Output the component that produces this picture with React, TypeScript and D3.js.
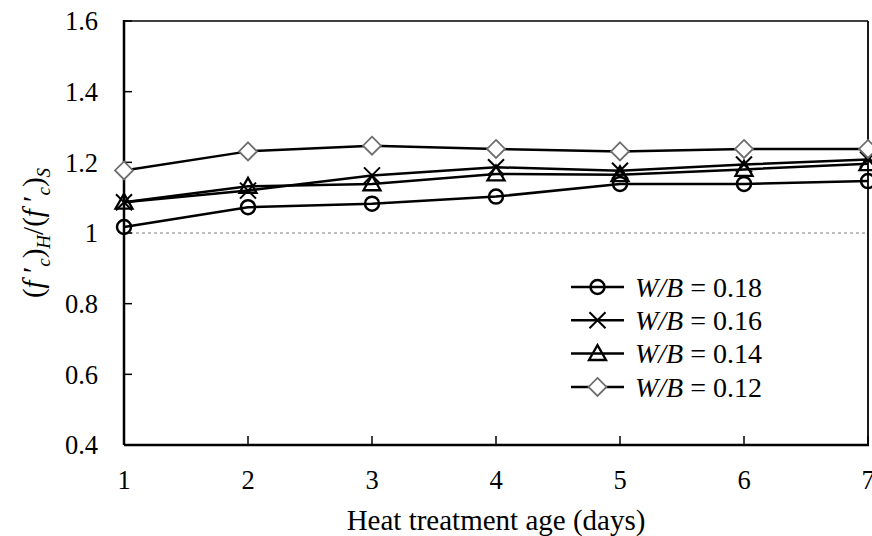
import React from "react";
import * as d3 from "d3";

const days = [1, 2, 3, 4, 5, 6, 7];
const wb018 = [1.017, 1.073, 1.083, 1.103, 1.139, 1.139, 1.147];
const wb016 = [1.087, 1.12, 1.163, 1.186, 1.176, 1.194, 1.208];
const wb014 = [1.087, 1.132, 1.139, 1.167, 1.165, 1.18, 1.196];
const wb012 = [1.177, 1.231, 1.247, 1.238, 1.231, 1.238, 1.238];
const seriesLabels = ["0.18", "0.16", "0.14", "0.12"];
const yTicks = [0.4, 0.6, 0.8, 1.0, 1.2, 1.4, 1.6];
const yTickLabels = ["0.4", "0.6", "0.8", "1", "1.2", "1.4", "1.6"];

const W = 872, H = 536;
const L = 124, R = 868, T = 21, B = 445;
const FONT = "Liberation Serif, Times New Roman, DejaVu Serif, serif";
const txt = { fontFamily: FONT };

function Marker({ kind, x, y }: { kind: string; x: number; y: number }) {
  if (kind === "circle")
    return <circle cx={x} cy={y} r={7} fill="none" stroke="#000" strokeWidth={2.5} />;
  if (kind === "x") {
    const s = 8;
    return (
      <path d={`M${x - s},${y - s}L${x + s},${y + s}M${x - s},${y + s}L${x + s},${y - s}`} stroke="#000" strokeWidth={2} fill="none" />
    );
  }
  if (kind === "tri") {
    const s = 8.5;
    return (
      <path d={`M${x},${y - s}L${x + s},${y + s * 0.75}L${x - s},${y + s * 0.75}Z`} stroke="#000" strokeWidth={2.3} fill="none" />
    );
  }
  const s = 9;
  return (
    <path d={`M${x},${y - s}L${x + s},${y}L${x},${y + s}L${x - s},${y}Z`} stroke="#6e6e6e" strokeWidth={1.8} fill="#fff" />
  );
}

export default function App() {
  const x = d3.scaleLinear().domain([1, 7]).range([L, R]);
  const y = d3.scaleLinear().domain([0.4, 1.6]).range([B, T]);
  const line = d3.line<number>().x((_, i) => x(days[i])).y((d) => y(d));
  const series = [
    { vals: wb018, kind: "circle" },
    { vals: wb016, kind: "x" },
    { vals: wb014, kind: "tri" },
    { vals: wb012, kind: "diamond" },
  ];
  const legX = 571, legY0 = 287, legDy = 33.3;
  return (
    <div style={{ position: "absolute", left: 0, top: 0 }}>
      <svg width={W} height={H} style={{ display: "block", background: "#fff" }}>
        <rect x={0} y={0} width={W} height={H} fill="#fff" />
        <line x1={L} x2={R} y1={y(1)} y2={y(1)} stroke="#808080" strokeWidth={1.2} strokeDasharray="3,3" />
        <line x1={L} x2={R} y1={T} y2={T} stroke="#000" strokeWidth={1.5} />
        <line x1={R} x2={R} y1={T} y2={B} stroke="#000" strokeWidth={1.8} />
        <line x1={L} x2={L} y1={T - 1} y2={B} stroke="#000" strokeWidth={2.5} />
        <line x1={L} x2={R + 1} y1={B} y2={B} stroke="#000" strokeWidth={2.5} />
        {yTicks.map((t, i) => (
          <g key={"y" + i}>
            <line x1={L} x2={L + 8} y1={y(t)} y2={y(t)} stroke="#000" strokeWidth={1.5} />
            <text x={98} y={y(t)} dy="0.35em" textAnchor="end" style={txt} fontSize={26.5} fill="#000">
              {yTickLabels[i]}
            </text>
          </g>
        ))}
        {days.map((d) => (
          <g key={"x" + d}>
            <line x1={x(d)} x2={x(d)} y1={B} y2={B - 9} stroke="#000" strokeWidth={1.5} />
            <text x={x(d)} y={489} textAnchor="middle" style={txt} fontSize={26.5} fill="#000">
              {d}
            </text>
          </g>
        ))}
        <text x={(L + R) / 2} y={530} textAnchor="middle" style={txt} fontSize={29} fill="#000">
          Heat treatment age (days)
        </text>
        <text transform={`translate(43,${(T + B) / 2}) rotate(-90)`} textAnchor="middle" style={txt} fontSize={29} fill="#000">
          (<tspan fontStyle="italic">f</tspan> ′
          <tspan fontStyle="italic" fontSize={19} dy={7}>c</tspan>
          <tspan dy={-7}>)</tspan>
          <tspan fontStyle="italic" fontSize={19} dy={7}>H</tspan>
          <tspan dy={-7}>/(</tspan>
          <tspan fontStyle="italic">f</tspan> ′
          <tspan fontStyle="italic" fontSize={19} dy={7}>c</tspan>
          <tspan dy={-7}>)</tspan>
          <tspan fontStyle="italic" fontSize={19} dy={7}>S</tspan>
        </text>
        {series.map((s, si) => (
          <g key={"s" + si}>
            <path d={line(s.vals) || ""} fill="none" stroke="#000" strokeWidth={2.5} />
            {s.vals.map((v, i) => (
              <Marker key={i} kind={s.kind} x={x(days[i])} y={y(v)} />
            ))}
          </g>
        ))}
        {series.map((s, si) => {
          const ly = legY0 + si * legDy;
          return (
            <g key={"l" + si}>
              <line x1={legX} x2={legX + 53} y1={ly} y2={ly} stroke="#000" strokeWidth={2.5} />
              <Marker kind={s.kind} x={legX + 26.5} y={ly} />
              <text x={635} y={ly} dy="0.35em" style={txt} fontSize={28} fill="#000">
                <tspan fontStyle="italic">W/B</tspan> = {seriesLabels[si]}
              </text>
            </g>
          );
        })}
      </svg>
    </div>
  );
}
